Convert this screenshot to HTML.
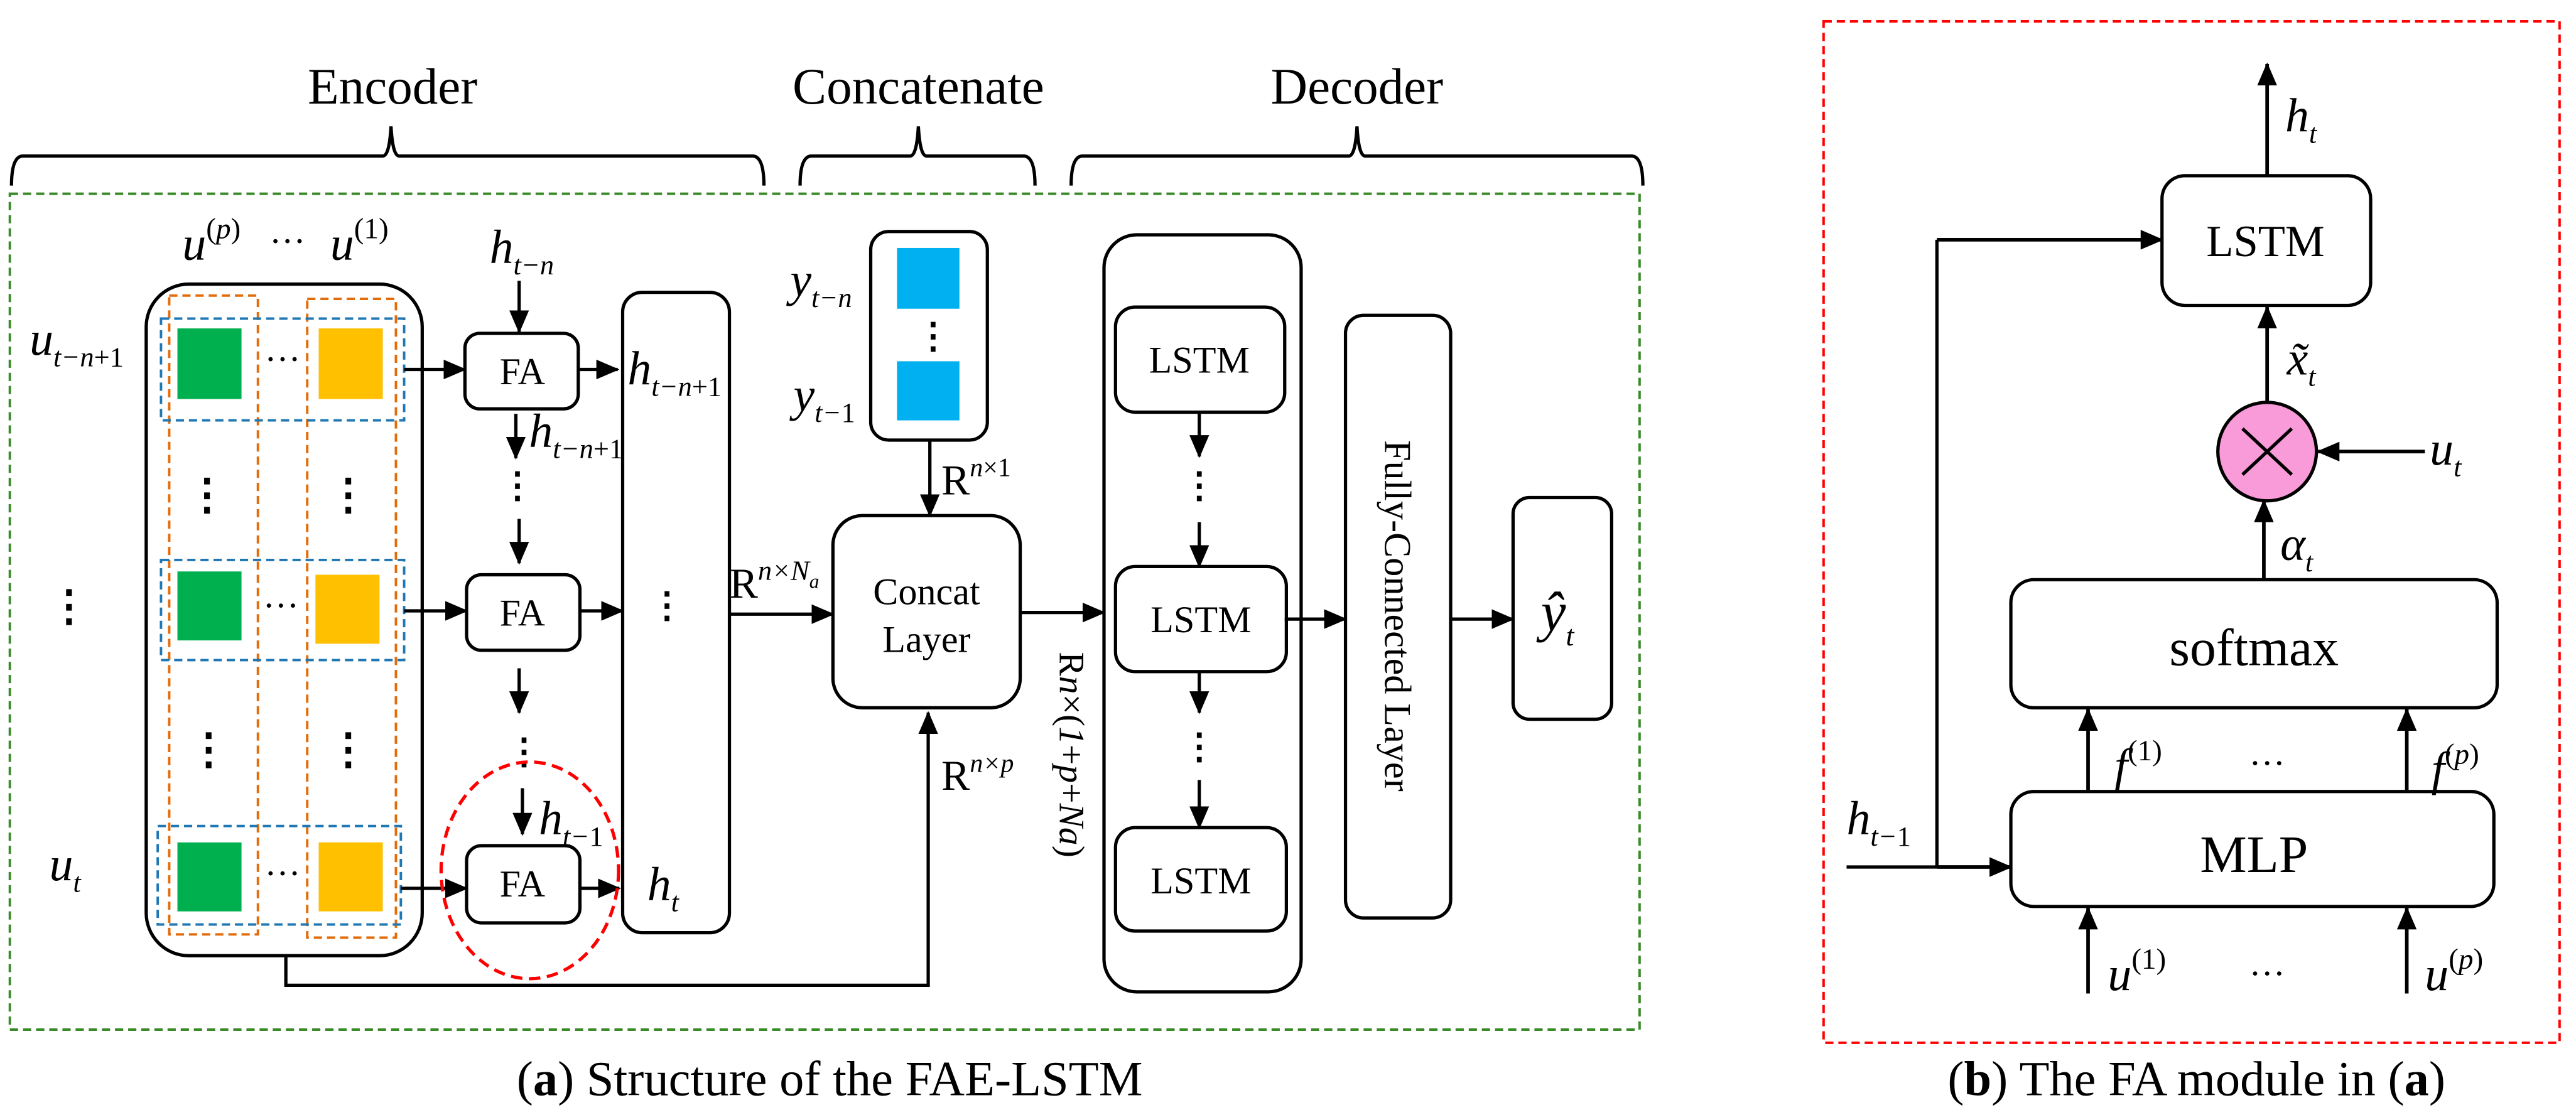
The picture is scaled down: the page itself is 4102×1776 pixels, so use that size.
<!DOCTYPE html>
<html><head><meta charset="utf-8"><style>
html,body{margin:0;padding:0;background:#fff;}
svg{display:block;}
svg text{font-family:"Liberation Serif",serif;fill:#000;}
.m{font-style:italic;}
</style></head><body>
<svg width="4102" height="1776" viewBox="0 0 1568 679" preserveAspectRatio="none" xmlns="http://www.w3.org/2000/svg" font-family="Liberation Serif, serif">
<defs>
<marker id="a" markerWidth="14" markerHeight="12" refX="13" refY="6" orient="auto" markerUnits="userSpaceOnUse">
<path d="M0,0 L14,6 L0,12 Z" fill="#000"/></marker>
</defs>
<g fill="none" stroke="#000" stroke-width="2">
<path d="M7,113 Q7,95 14,95 L233,95 Q237,95 238,77 Q239,95 243,95 L458,95 Q465,95 465,113"/>
<path d="M487,113 Q487,95 494,95 L554,95 Q558,95 559,77 Q560,95 564,95 L623,95 Q630,95 630,113"/>
<path d="M652,113 Q652,95 659,95 L821,95 Q825,95 826,77 Q827,95 831,95 L993,95 Q1000,95 1000,113"/>
</g>
<text x="239" y="63" font-size="31" text-anchor="middle">Encoder</text>
<text x="559" y="63" font-size="31" text-anchor="middle">Concatenate</text>
<text x="826" y="63" font-size="31" text-anchor="middle">Decoder</text>
<rect x="6" y="118" width="992" height="509" fill="none" stroke="#3a8a2a" stroke-width="1.5" stroke-dasharray="5,3"/>
<rect x="89" y="173" width="168" height="409" rx="26" fill="none" stroke="#000" stroke-width="2"/>
<g fill="#00b04f"><rect x="108" y="200" width="39" height="43"/><rect x="108" y="348" width="39" height="42"/><rect x="108" y="513" width="39" height="42"/></g>
<g fill="#ffc000"><rect x="194" y="200" width="39" height="43"/><rect x="192" y="350" width="39" height="42"/><rect x="194" y="513" width="39" height="42"/></g>
<g fill="none" stroke="#e36c0a" stroke-width="1.5" stroke-dasharray="5,3"><rect x="103" y="180" width="54" height="389"/><rect x="187" y="182" width="54" height="389"/></g>
<g fill="none" stroke="#1f77b4" stroke-width="1.5" stroke-dasharray="5,3"><rect x="98" y="194" width="148" height="62"/><rect x="98" y="341" width="148" height="61"/><rect x="96" y="503" width="148" height="60"/></g>
<g font-size="22" text-anchor="middle"><text x="172" y="226">···</text><text x="171" y="376">···</text><text x="172" y="539">···</text></g>
<g font-size="26" text-anchor="middle" font-weight="bold"><text x="126" y="310">⋮</text><text x="212" y="310">⋮</text><text x="127" y="465">⋮</text><text x="212" y="465">⋮</text><text x="42" y="378">⋮</text></g>
<text x="111" y="158" font-size="29" class="m">u<tspan font-size="18" dy="-13" font-style="normal">(</tspan><tspan font-size="18" class="m">p</tspan><tspan font-size="18" font-style="normal">)</tspan></text>
<text x="164" y="154" font-size="22">···</text>
<text x="201" y="158" font-size="29" class="m">u<tspan font-size="18" dy="-13" font-style="normal">(1)</tspan></text>
<text x="18" y="216" font-size="29" class="m">u<tspan font-size="17" dy="7">t−n</tspan><tspan font-size="17" font-style="normal">+1</tspan></text>
<text x="30" y="536" font-size="29" class="m">u<tspan font-size="17" dy="7">t</tspan></text>
<g fill="none" stroke="#000" stroke-width="2">
<rect x="283" y="203" width="69" height="46" rx="9"/>
<rect x="284" y="350" width="69" height="46" rx="9"/>
<rect x="284" y="515" width="69" height="47" rx="9"/>
<rect x="379" y="178" width="65" height="390" rx="12"/>
</g>
<g font-size="23" text-anchor="middle"><text x="318" y="234">FA</text><text x="318" y="381">FA</text><text x="318" y="546">FA</text></g>
<g stroke="#000" stroke-width="2" marker-end="url(#a)">
<line x1="246" y1="225" x2="283" y2="225"/>
<line x1="246" y1="372" x2="284" y2="372"/>
<line x1="244" y1="541" x2="284" y2="541"/>
<line x1="352" y1="225" x2="376" y2="225"/>
<line x1="353" y1="372" x2="379" y2="372"/>
<line x1="353" y1="541" x2="377" y2="541"/>
<line x1="316" y1="171" x2="316" y2="202"/>
<line x1="314" y1="252" x2="314" y2="279"/>
<line x1="316" y1="316" x2="316" y2="343"/>
<line x1="316" y1="407" x2="316" y2="434"/>
<line x1="318" y1="480" x2="318" y2="508"/>
<line x1="444" y1="374" x2="507" y2="374"/>
<line x1="566" y1="268" x2="566" y2="314"/>
<line x1="621" y1="373" x2="672" y2="373"/>
<line x1="730" y1="251" x2="730" y2="278"/>
<line x1="730" y1="318" x2="730" y2="345"/>
<line x1="730" y1="409" x2="730" y2="434"/>
<line x1="730" y1="475" x2="730" y2="504"/>
<line x1="782" y1="377" x2="819" y2="377"/>
<line x1="883" y1="377" x2="921" y2="377"/>
</g>
<g font-size="22" text-anchor="middle" font-weight="bold"><text x="315" y="303">⋮</text><text x="319" y="465">⋮</text><text x="406" y="376">⋮</text><text x="568" y="212">⋮</text><text x="730" y="303">⋮</text><text x="730" y="462">⋮</text></g>
<text x="298" y="160" font-size="29" class="m">h<tspan font-size="17" dy="7">t−n</tspan></text>
<text x="322" y="272" font-size="29" class="m">h<tspan font-size="17" dy="7">t−n</tspan><tspan font-size="17" font-style="normal">+1</tspan></text>
<text x="382" y="234" font-size="29" class="m">h<tspan font-size="17" dy="7">t−n</tspan><tspan font-size="17" font-style="normal">+1</tspan></text>
<text x="328" y="508" font-size="29" class="m">h<tspan font-size="17" dy="7">t−</tspan><tspan font-size="17" font-style="normal">1</tspan></text>
<text x="394" y="548" font-size="29" class="m">h<tspan font-size="17" dy="7">t</tspan></text>
<ellipse cx="322.5" cy="530" rx="54" ry="66" fill="none" stroke="#ff0000" stroke-width="2" stroke-dasharray="7,4"/>
<text x="444" y="364" font-size="26">R<tspan font-size="17" class="m" dy="-11">n×N</tspan><tspan font-size="12" class="m" dy="5">a</tspan></text>
<rect x="530" y="141" width="71" height="127" rx="11" fill="none" stroke="#000" stroke-width="2"/>
<rect x="546" y="151" width="38" height="37" fill="#00b0f0"/>
<rect x="546" y="220" width="38" height="36" fill="#00b0f0"/>
<text x="481" y="180" font-size="29" class="m">y<tspan font-size="17" dy="7">t−n</tspan></text>
<text x="483" y="250" font-size="29" class="m">y<tspan font-size="17" dy="7">t−</tspan><tspan font-size="17" font-style="normal">1</tspan></text>
<text x="573" y="301" font-size="26">R<tspan font-size="16" class="m" dy="-11">n</tspan><tspan font-size="16">×1</tspan></text>
<rect x="507" y="314" width="114" height="117" rx="18" fill="none" stroke="#000" stroke-width="2"/>
<text x="564" y="368" font-size="23" text-anchor="middle">Concat</text>
<text x="564" y="397" font-size="23" text-anchor="middle">Layer</text>
<polyline points="174,583 174,600 565,600 565,434" fill="none" stroke="#000" stroke-width="2" marker-end="url(#a)"/>
<text x="573" y="481" font-size="26">R<tspan font-size="16" class="m" dy="-11">n×p</tspan></text>
<text transform="translate(645,397) rotate(90)" font-size="22">R<tspan class="m" font-size="22">n</tspan>×(<tspan class="m">1</tspan>+<tspan class="m">p</tspan>+<tspan class="m">Na</tspan>)</text>
<g fill="none" stroke="#000" stroke-width="2">
<rect x="672" y="143" width="120" height="461" rx="20"/>
<rect x="679" y="187" width="103" height="64" rx="12"/>
<rect x="679" y="345" width="104" height="64" rx="12"/>
<rect x="679" y="504" width="104" height="63" rx="12"/>
<rect x="819" y="192" width="64" height="367" rx="11"/>
<rect x="921" y="303" width="60" height="135" rx="10"/>
</g>
<g font-size="23" text-anchor="middle"><text x="730" y="227">LSTM</text><text x="731" y="385">LSTM</text><text x="731" y="544">LSTM</text></g>
<text transform="translate(843,375) rotate(90)" font-size="23" text-anchor="middle">Fully-Connected  Layer</text>
<text x="938" y="384" font-size="34" class="m">ŷ<tspan font-size="18" dy="9">t</tspan></text>
<text x="505" y="667" font-size="30" text-anchor="middle">(<tspan font-weight="bold">a</tspan>) Structure of the FAE-LSTM</text>
<rect x="1110" y="13" width="448" height="622" fill="none" stroke="#ff0000" stroke-width="1.5" stroke-dasharray="5,3"/>
<g fill="none" stroke="#000" stroke-width="2">
<rect x="1316" y="107" width="127" height="79" rx="14"/>
<rect x="1224" y="353" width="296" height="78" rx="14"/>
<rect x="1224" y="482" width="294" height="70" rx="14"/>
<polyline points="1124,528 1179,528"/>
<polyline points="1179,528 1179,146"/>
</g>
<ellipse cx="1380" cy="275" rx="30" ry="30" fill="#f99ad9" stroke="#000" stroke-width="2"/>
<path d="M1365,261 L1395,289 M1395,261 L1365,289" stroke="#000" stroke-width="2"/>
<g stroke="#000" stroke-width="2.2" marker-end="url(#a)">
<line x1="1380" y1="107" x2="1380" y2="39"/>
<line x1="1179" y1="146" x2="1316" y2="146"/>
<line x1="1179" y1="528" x2="1224" y2="528"/>
<line x1="1380" y1="245" x2="1380" y2="187"/>
<line x1="1476" y1="275" x2="1411" y2="275"/>
<line x1="1378" y1="353" x2="1378" y2="305"/>
<line x1="1271" y1="482" x2="1271" y2="432"/>
<line x1="1465" y1="482" x2="1465" y2="432"/>
<line x1="1271" y1="605" x2="1271" y2="553"/>
<line x1="1465" y1="605" x2="1465" y2="553"/>
</g>
<text x="1379" y="156" font-size="27" text-anchor="middle">LSTM</text>
<text x="1372" y="405" font-size="32" text-anchor="middle">softmax</text>
<text x="1372" y="531" font-size="32" text-anchor="middle">MLP</text>
<text x="1391" y="80" font-size="29" class="m">h<tspan font-size="17" dy="7">t</tspan></text>
<text x="1392" y="228" font-size="29" class="m">x̃<tspan font-size="17" dy="7">t</tspan></text>
<text x="1479" y="283" font-size="29" class="m">u<tspan font-size="17" dy="7">t</tspan></text>
<text x="1388" y="341" font-size="29" class="m">α<tspan font-size="17" dy="7">t</tspan></text>
<text x="1124" y="508" font-size="29" class="m">h<tspan font-size="17" dy="7">t−</tspan><tspan font-size="17" font-style="normal">1</tspan></text>
<text x="1287" y="476" font-size="29" class="m">f<tspan font-size="18" dy="-13" font-style="normal">(1)</tspan></text>
<text x="1380" y="472" font-size="22" text-anchor="middle">···</text>
<text x="1480" y="478" font-size="29" class="m">f<tspan font-size="18" dy="-13" font-style="normal">(</tspan><tspan font-size="18">p</tspan><tspan font-size="18" font-style="normal">)</tspan></text>
<text x="1283" y="603" font-size="29" class="m">u<tspan font-size="18" dy="-13" font-style="normal">(1)</tspan></text>
<text x="1380" y="600" font-size="22" text-anchor="middle">···</text>
<text x="1476" y="603" font-size="29" class="m">u<tspan font-size="18" dy="-13" font-style="normal">(</tspan><tspan font-size="18">p</tspan><tspan font-size="18" font-style="normal">)</tspan></text>
<text x="1337" y="667" font-size="30" text-anchor="middle">(<tspan font-weight="bold">b</tspan>) The FA module in (<tspan font-weight="bold">a</tspan>)</text>
</svg>
</body></html>
